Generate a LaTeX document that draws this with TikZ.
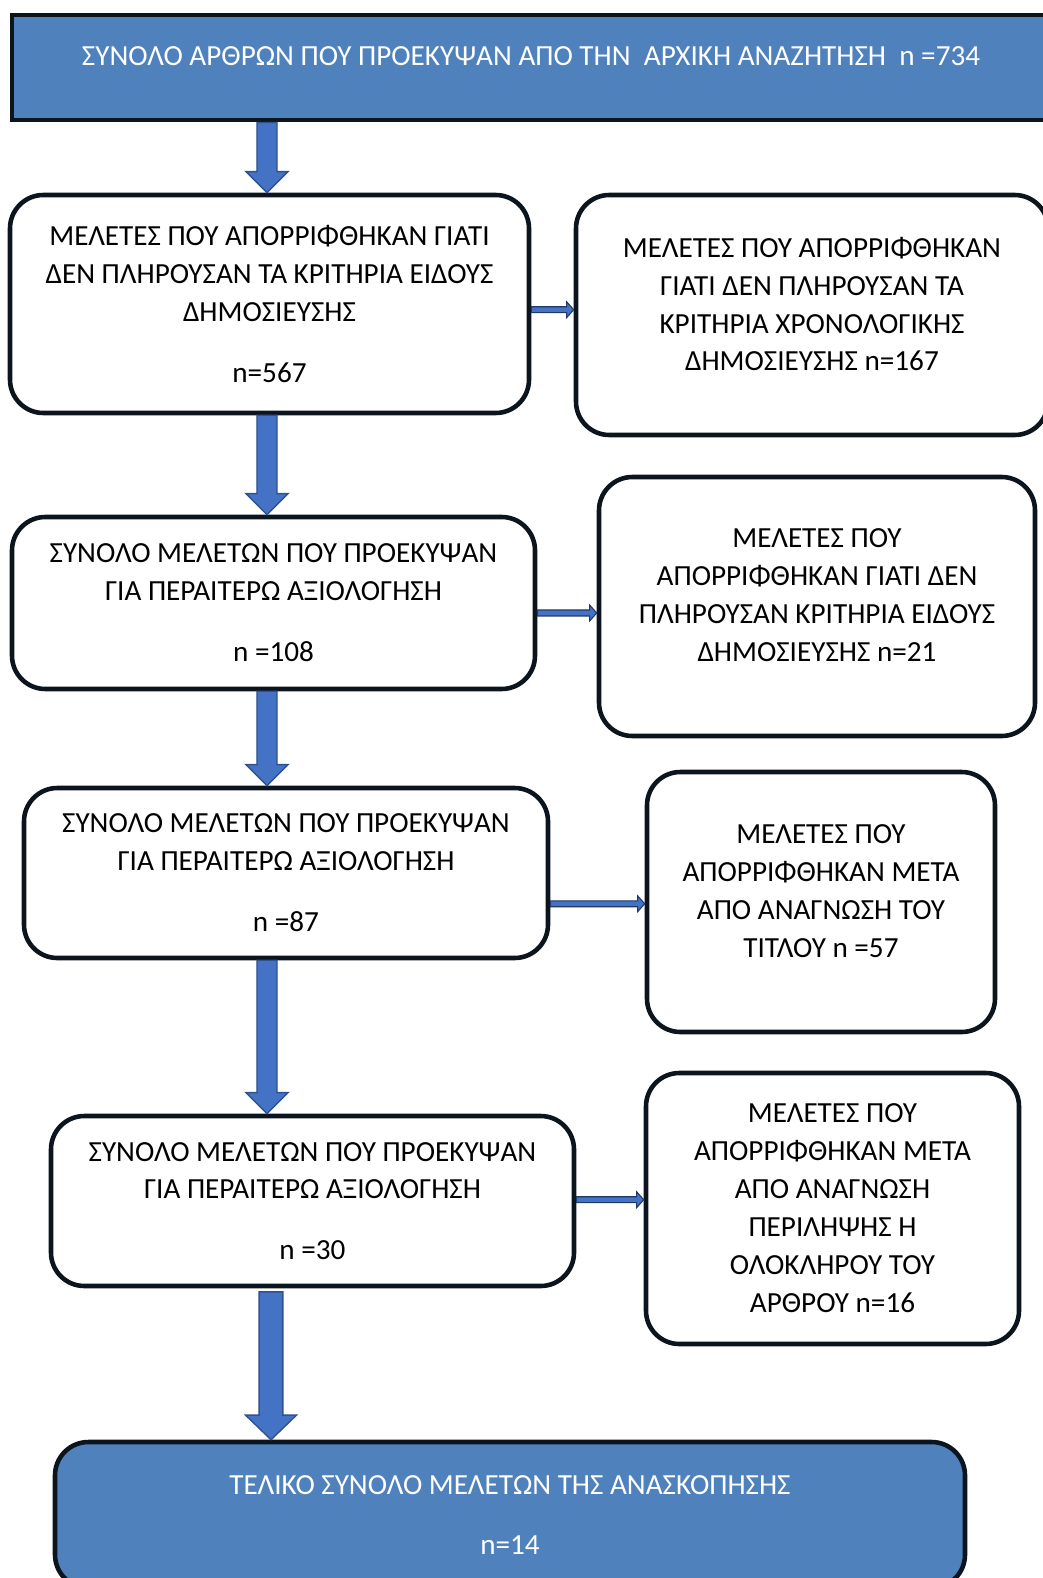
\documentclass[tikz,border=0pt]{standalone}
\usepackage{fontspec}
\setmainfont{Carlito}
\usetikzlibrary{calc}
\newlength\px
\setlength\px{0.02cm}
\definecolor{topblue}{RGB}{79,129,189}
\definecolor{arrowblue}{RGB}{68,114,196}
\definecolor{arrowedge}{RGB}{47,82,143}
\definecolor{sideedge}{RGB}{31,56,100}
\definecolor{boxline}{RGB}{12,20,30}
\tikzset{
	flowbox/.style={draw=boxline, line width=2.6pt, rounded corners=19pt, fill=white, align=center, inner sep=0pt, font=\fontsize{16.6}{21.6}\selectfont},
	topbox/.style={draw=boxline, line width=2.8pt, fill=topblue, text=white, inner sep=0pt, text height=10pt, text depth=12pt, font=\fontsize{16.6}{21.6}\selectfont},
	downarrow/.style n args={3}{draw=arrowedge, line width=0.8pt, fill=arrowblue,
		to path={let \p1=(\tikztostart), \p2=(\tikztotarget) in
			(\x2-#1,\y1) -- (\x2+#1,\y1) -- (\x2+#1,\y2+#3) -- (\x2+#2,\y2+#3) -- (\x2,\y2) -- (\x2-#2,\y2+#3) -- (\x2-#1,\y2+#3) -- cycle}},
	sidearrow/.style={draw=sideedge, line width=0.6pt, fill=arrowblue,
		to path={let \p1=(\tikztostart), \p2=(\tikztotarget) in
			(\x1,\y2-1.7pt) -- (\x2-4pt,\y2-1.7pt) -- (\x2-4pt,\y2-4.5pt) -- (\x2,\y2) -- (\x2-4pt,\y2+4.5pt) -- (\x2-4pt,\y2+1.7pt) -- (\x1,\y2+1.7pt) -- cycle}}
}
\begin{document}
\begin{tikzpicture}[x=1\px, y=-1\px]
	\useasboundingbox (0,0) rectangle (1042,1578);
	\coordinate (spine) at (267,0);
	\coordinate (spineb) at (271,0);
	%Top box:
	\path
		(531,67.5) node[topbox, minimum width=1038\px, minimum height=105\px] (top) {ΣΥΝΟΛΟ ΑΡΘΡΩΝ ΠΟΥ ΠΡΟΕΚΥΨΑΝ ΑΠΟ ΤΗΝ\ \ ΑΡΧΙΚΗ ΑΝΑΖΗΤΗΣΗ\ \ n =734};
	%Left column:
	\path
		(269.5,304) node[flowbox, minimum width=519\px, minimum height=218\px] (box1) {ΜΕΛΕΤΕΣ ΠΟΥ ΑΠΟΡΡΙΦΘΗΚΑΝ ΓΙΑΤΙ\\ ΔΕΝ ΠΛΗΡΟΥΣΑΝ ΤΑ ΚΡΙΤΗΡΙΑ ΕΙΔΟΥΣ\\ ΔΗΜΟΣΙΕΥΣΗΣ\\[13pt] n=567}
		(273.5,603) node[flowbox, minimum width=523\px, minimum height=172\px] (box2) {ΣΥΝΟΛΟ ΜΕΛΕΤΩΝ ΠΟΥ ΠΡΟΕΚΥΨΑΝ\\ ΓΙΑ ΠΕΡΑΙΤΕΡΩ ΑΞΙΟΛΟΓΗΣΗ\\[13pt] n =108}
		(286,873) node[flowbox, minimum width=524\px, minimum height=170\px] (box3) {ΣΥΝΟΛΟ ΜΕΛΕΤΩΝ ΠΟΥ ΠΡΟΕΚΥΨΑΝ\\ ΓΙΑ ΠΕΡΑΙΤΕΡΩ ΑΞΙΟΛΟΓΗΣΗ\\[13pt] n =87}
		(312.5,1201) node[flowbox, minimum width=523\px, minimum height=170\px] (box4) {ΣΥΝΟΛΟ ΜΕΛΕΤΩΝ ΠΟΥ ΠΡΟΕΚΥΨΑΝ\\ ΓΙΑ ΠΕΡΑΙΤΕΡΩ ΑΞΙΟΛΟΓΗΣΗ\\[13pt] n =30}
		(510,1515) node[flowbox, fill=topblue, text=white, minimum width=910\px, minimum height=146\px] (final) {ΤΕΛΙΚΟ ΣΥΝΟΛΟ ΜΕΛΕΤΩΝ ΤΗΣ ΑΝΑΣΚΟΠΗΣΗΣ\\[13pt] n=14};
	%Right column:
	\path
		(812,315) node[flowbox, minimum width=472\px, minimum height=240\px] (box1r) {ΜΕΛΕΤΕΣ ΠΟΥ ΑΠΟΡΡΙΦΘΗΚΑΝ\\ ΓΙΑΤΙ ΔΕΝ ΠΛΗΡΟΥΣΑΝ ΤΑ\\ ΚΡΙΤΗΡΙΑ ΧΡΟΝΟΛΟΓΙΚΗΣ\\ ΔΗΜΟΣΙΕΥΣΗΣ n=167\\[-9pt]~}
		(817,606.5) node[flowbox, minimum width=436\px, minimum height=259\px] (box2r) {ΜΕΛΕΤΕΣ ΠΟΥ\\ ΑΠΟΡΡΙΦΘΗΚΑΝ ΓΙΑΤΙ ΔΕΝ\\ ΠΛΗΡΟΥΣΑΝ ΚΡΙΤΗΡΙΑ ΕΙΔΟΥΣ\\ ΔΗΜΟΣΙΕΥΣΗΣ n=21\\[-9pt]~}
		(821,902) node[flowbox, minimum width=348\px, minimum height=260\px] (box3r) {ΜΕΛΕΤΕΣ ΠΟΥ\\ ΑΠΟΡΡΙΦΘΗΚΑΝ ΜΕΤΑ\\ ΑΠΟ ΑΝΑΓΝΩΣΗ ΤΟΥ\\ ΤΙΤΛΟΥ n =57\\[-9pt]~}
		(832.5,1208.5) node[flowbox, minimum width=373\px, minimum height=271\px] (box4r) {ΜΕΛΕΤΕΣ ΠΟΥ\\ ΑΠΟΡΡΙΦΘΗΚΑΝ ΜΕΤΑ\\ ΑΠΟ ΑΝΑΓΝΩΣΗ\\ ΠΕΡΙΛΗΨΗΣ Η\\ ΟΛΟΚΛΗΡΟΥ ΤΟΥ\\ ΑΡΘΡΟΥ n=16};
	%Down arrows:
	\draw[downarrow={5.7pt}{12pt}{12pt}] (spine |- top.south) to (spine |- box1.north);
	\draw[downarrow={5.7pt}{12pt}{12pt}] (spine |- box1.south) to (spine |- box2.north);
	\draw[downarrow={5.7pt}{12pt}{12pt}] (spine |- box2.south) to (spine |- box3.north);
	\draw[downarrow={5.7pt}{12pt}{12pt}] (spine |- box3.south) to (spine |- box4.north);
	\draw[downarrow={6.8pt}{14.5pt}{14pt}] ([yshift=-2pt]spineb |- box4.south) to (spineb |- final.north);
	%Side arrows:
	\draw[sidearrow] (box1.east) to ([yshift=3pt]box1r.west);
	\draw[sidearrow] (box2.east) to ([yshift=-3.7pt]box2r.west);
	\draw[sidearrow] (box3.east) to ([yshift=-1pt]box3r.west);
	\draw[sidearrow] (box4.east) to ([yshift=5pt]box4r.west);
\end{tikzpicture}
\end{document}
